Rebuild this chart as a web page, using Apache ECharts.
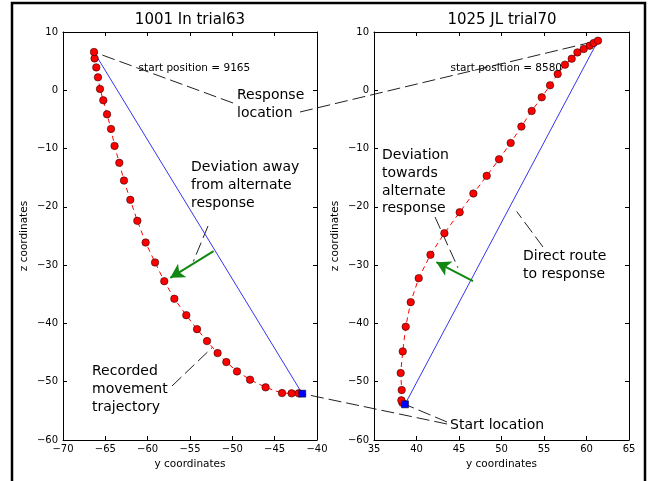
<!DOCTYPE html>
<html><head><meta charset="utf-8">
<script src="https://cdn.jsdelivr.net/npm/echarts@6/dist/echarts.min.js"></script>
<style>html,body{margin:0;padding:0;background:#fff}#c{width:650px;height:481px}</style>
</head><body><div id="c"></div>
<script>
// ---- data ----
const leftTitle = '1001 In trial63';
const rightTitle = '1025 JL trial70';
const leftStartText = 'start position = 9165';
const rightStartText = 'start position = 8580';

// left trial: trajectory from start (bottom right) to response (top left)
const leftYCoords = [-42.17,-43.00,-44.13,-46.07,-47.91,-49.45,-50.71,-51.74,-52.99,-54.17,-55.44,-56.85,-58.04,-59.13,-60.24,-61.22,-62.05,-62.80,-63.35,-63.91,-64.33,-64.80,-65.24,-65.63,-65.87,-66.07,-66.27,-66.34];
const leftZCoords = [-52.0,-52.0,-51.95,-50.97,-49.65,-48.23,-46.63,-45.09,-43.03,-40.98,-38.58,-35.77,-32.75,-29.54,-26.12,-22.40,-18.80,-15.49,-12.45,-9.54,-6.63,-4.12,-1.72,0.23,2.22,3.93,5.47,6.57];
const leftStart = [-41.74, -52.05];

// right trial
const rightYCoords = [38.34,38.22,38.26,38.14,38.38,38.73,39.32,40.26,41.64,43.28,45.08,46.69,48.26,49.71,51.08,52.34,53.55,54.73,55.71,56.61,57.47,58.26,58.93,59.67,60.38,60.85,61.35];
const rightZCoords = [-53.6,-53.20,-51.43,-48.52,-44.80,-40.57,-36.35,-32.24,-28.22,-24.52,-20.92,-17.72,-14.68,-11.84,-9.03,-6.23,-3.54,-1.21,0.85,2.80,4.40,5.42,6.50,7.09,7.65,8.11,8.51];
const rightStart = [38.65, -53.88];

const leftXTicks = [-70,-65,-60,-55,-50,-45,-40];
const rightXTicks = [35,40,45,50,55,60,65];
const zTicks = [-60,-50,-40,-30,-20,-10,0,10];

// deviation arrows (data coords in each panel)
const leftArrow = [[-52.21,-27.6],[-57.33,-32.17]];
const rightArrow = [[46.65,-32.75],[42.34,-29.49]];
const startTextPosL = [-61.07, 3.83];
const startTextPosR = [43.99, 3.83];
// annotation targets (data coords)
const devAwayTarget = [-54.61,-29.37];
const recordedTarget = [-52.4,-44.17];
const devTowardsTarget = [44.88,-30.45];
const directTarget = [51.79,-20.8];

// ---- chart ----
const FF = '"DejaVu Sans", sans-serif';
const pairs = (a, b) => a.map((v, i) => [v, b[i]]);
const leftTraj = pairs(leftYCoords, leftZCoords);
const rightTraj = pairs(rightYCoords, rightZCoords);
const minus = v => String(v).replace('-', '\u2212');

const chart = echarts.init(document.getElementById('c'), null, {renderer: 'canvas'});

function xAx(grid, ticks, top) {
  return {
    type: 'value', gridIndex: grid, position: top ? 'top' : 'bottom',
    min: ticks[0], max: ticks[ticks.length - 1], interval: ticks[1] - ticks[0],
    axisLine: {show: true, onZero: false, lineStyle: {color: '#000', width: 1}},
    axisTick: {show: true, inside: true, length: 4, lineStyle: {color: '#000'}},
    splitLine: {show: false},
    axisLabel: {show: !top, fontSize: 10, color: '#000', fontFamily: FF, margin: 4, formatter: minus},
    name: top ? '' : 'y coordinates', nameLocation: 'middle', nameGap: 19,
    nameTextStyle: {fontSize: 10.5, color: '#000', fontFamily: FF}
  };
}
function yAx(grid, right) {
  return {
    type: 'value', gridIndex: grid, position: right ? 'right' : 'left',
    min: zTicks[0], max: zTicks[zTicks.length - 1], interval: zTicks[1] - zTicks[0],
    axisLine: {show: true, onZero: false, lineStyle: {color: '#000', width: 1}},
    axisTick: {show: true, inside: true, length: 4, lineStyle: {color: '#000'}},
    splitLine: {show: false},
    axisLabel: {show: !right, fontSize: 10, color: '#000', fontFamily: FF, margin: 5, formatter: minus},
    name: right ? '' : 'z coordinates', nameLocation: 'middle', nameGap: 33,
    nameTextStyle: {fontSize: 10.5, color: '#000', fontFamily: FF}
  };
}

function panelSeries(xi, yi, traj, start, arrow) {
  const end = traj[traj.length - 1];
  return [
    {type: 'line', xAxisIndex: xi, yAxisIndex: yi, data: [start, end], symbol: 'none',
     lineStyle: {color: '#3535f0', width: 1}, silent: true, z: 2,
     markLine: {silent: true, symbol: ['none', 'arrow'], symbolSize: [12, 14], label: {show: false},
       lineStyle: {color: '#118811', width: 2, type: 'solid'}, emphasis: {disabled: true},
       data: [[{coord: arrow[0]}, {coord: arrow[1]}]]}},
    {type: 'line', xAxisIndex: xi, yAxisIndex: yi, data: traj, symbol: 'none',
     lineStyle: {color: '#ff0000', width: 1, type: [5, 4]}, silent: true, z: 3},
    {type: 'scatter', xAxisIndex: xi, yAxisIndex: yi, data: traj, symbolSize: 7.5,
     itemStyle: {color: '#ff0000', borderColor: '#000', borderWidth: 0.5, opacity: 1}, silent: true, z: 4},
    {type: 'scatter', xAxisIndex: xi, yAxisIndex: yi, data: [start], symbol: 'rect', symbolSize: 7,
     itemStyle: {color: '#0000ff', borderColor: '#000', borderWidth: 0.5, opacity: 1}, silent: true, z: 5}
  ];
}

chart.setOption({
  animation: false,
  backgroundColor: '#fff',
  title: [
    {text: leftTitle, left: 190, top: 13, textAlign: 'center', padding: 0,
     textStyle: {fontSize: 15, fontWeight: 'normal', color: '#000', fontFamily: FF}},
    {text: rightTitle, left: 502, top: 13, textAlign: 'center', padding: 0,
     textStyle: {fontSize: 15, fontWeight: 'normal', color: '#000', fontFamily: FF}}
  ],
  grid: [
    {left: 63, top: 32, width: 254, height: 408},
    {left: 374, top: 32, width: 255, height: 408}
  ],
  xAxis: [xAx(0, leftXTicks, false), xAx(0, leftXTicks, true), xAx(1, rightXTicks, false), xAx(1, rightXTicks, true)],
  yAxis: [yAx(0, false), yAx(0, true), yAx(1, false), yAx(1, true)],
  series: [].concat(
    panelSeries(0, 0, leftTraj, leftStart, leftArrow),
    panelSeries(2, 2, rightTraj, rightStart, rightArrow)
  )
});

const pxL = c => chart.convertToPixel({xAxisIndex: 0, yAxisIndex: 0}, c);
const pxR = c => chart.convertToPixel({xAxisIndex: 2, yAxisIndex: 2}, c);

const g = [];
g.push({type: 'rect', shape: {x: 12, y: 3, width: 633, height: 495}, style: {fill: 'none', stroke: '#000', lineWidth: 2.5}, z: 50, silent: true});

function dline(from, to) {
  g.push({type: 'line', shape: {x1: from[0], y1: from[1], x2: to[0], y2: to[1]},
    style: {stroke: '#222', lineWidth: 1, lineDash: [13, 5]}, z: 1, silent: true});
}
function txt(x, ys, lines, size) {
  lines.forEach((t, i) => g.push({type: 'text', z: 20, silent: true,
    style: {text: t, x: x, y: ys[i], fill: '#000', font: size + 'px ' + FF, align: 'left', verticalAlign: 'middle'}}));
}

const lEnd = leftTraj[leftTraj.length - 1], rEnd = rightTraj[rightTraj.length - 1];
dline([233, 103], pxL(lEnd));
dline([300, 112], pxR(rEnd));
dline([447, 424], pxL(leftStart));
dline([447, 422], pxR(rightStart));
dline([208, 226], pxL(devAwayTarget));
dline([172, 386], pxL(recordedTarget));
dline([435, 217], pxR(devTowardsTarget));
dline([543, 247], pxR(directTarget));

const sL = pxL(startTextPosL), sR = pxR(startTextPosR);
txt(sL[0], [sL[1]], [leftStartText], 10.5);
txt(sR[0], [sR[1]], [rightStartText], 10.5);
txt(237, [95, 113], ['Response', 'location'], 14);
txt(191, [167, 185, 203], ['Deviation away', 'from alternate', 'response'], 14);
txt(92, [371, 389, 407], ['Recorded', 'movement', 'trajectory'], 14);
txt(382, [155, 173, 191, 208.5], ['Deviation', 'towards', 'alternate', 'response'], 14);
txt(523, [256, 274], ['Direct route', 'to response'], 14);
txt(450, [425], ['Start location'], 14);

chart.setOption({graphic: {elements: g}});
</script>
</body></html>
